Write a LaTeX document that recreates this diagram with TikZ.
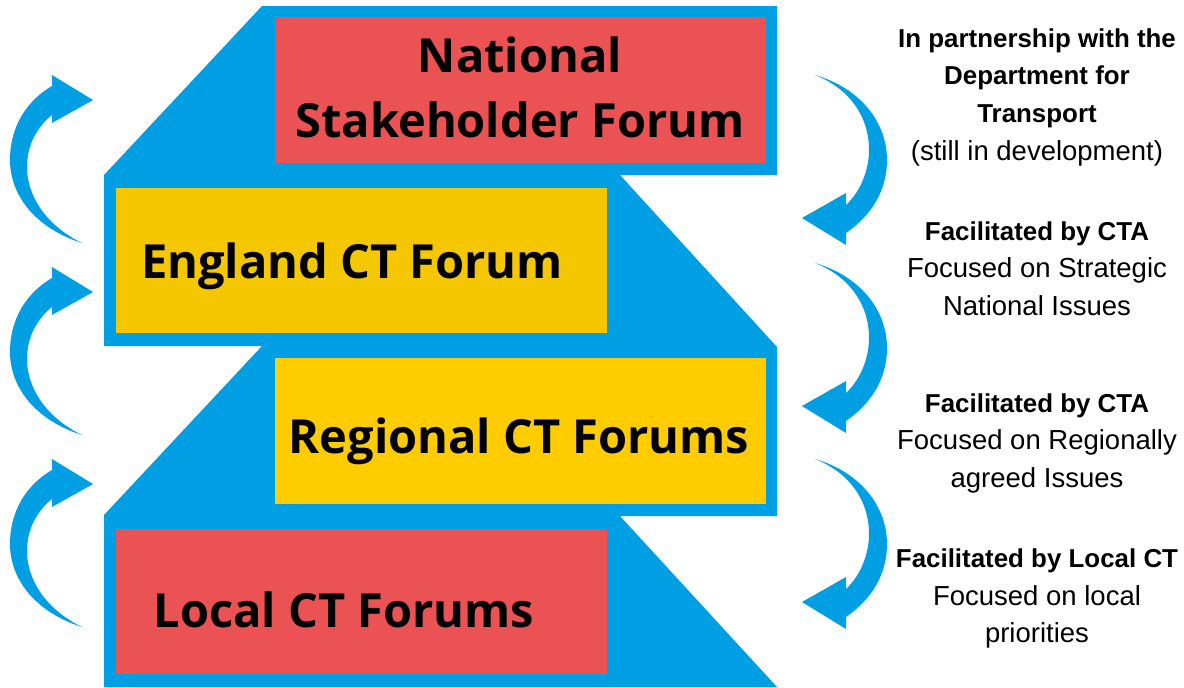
\documentclass[tikz,border=0pt]{standalone}
\usepackage{fontspec}
\newfontfamily\boxfont{Open Sans}
\newfontfamily\sidefont{Liberation Sans}
\definecolor{cblue}{HTML}{009FE3}
\definecolor{cred}{HTML}{EA5254}
\definecolor{cyelA}{HTML}{F4C700}
\definecolor{cyelB}{HTML}{FFCC00}
\tikzset{
  boxrect/.style={draw=none,inner sep=0pt,anchor=north west},
  boxtext/.style={font=\boxfont\bfseries\fontsize{47}{65}\selectfont,inner sep=0pt,anchor=base,align=center},
  sidebold/.style={font=\sidefont\bfseries\fontsize{25.9}{38}\selectfont,inner sep=0pt,anchor=base,align=center},
  sidereg/.style={font=\sidefont\fontsize{27.5}{38}\selectfont,inner sep=0pt,anchor=base,align=center},
  curvearrow/.style={fill=cblue,draw=none}
}
\begin{document}
\begin{tikzpicture}[x=1pt,y=-1pt]
\useasboundingbox (0,0) rectangle (1184,688);
% blue stepped shape
\fill[cblue] (262,6) -- (777,6) -- (777,175) -- (620,175) -- (777,347) -- (777,516) -- (620,516) -- (777,687) -- (104,687) -- (104,515) -- (262,346) -- (104,346) -- (104,175) -- cycle;
% boxes
\node[boxrect,fill=cred,minimum width=491pt,minimum height=146pt] (nat) at (275,17) {};
\node[boxrect,fill=cyelA,minimum width=491pt,minimum height=145pt] (eng) at (116,188) {};
\node[boxrect,fill=cyelB,minimum width=491pt,minimum height=146pt] (reg) at (275,358) {};
\node[boxrect,fill=cred,minimum width=491pt,minimum height=145pt] (loc) at (116,529) {};
% box texts
\node[boxtext] (natT1) at (520,72) {National};
\node[boxtext] (natT2) at (520,137) {Stakeholder Forum};
\node[boxtext] (engT) at (352,278) {England CT Forum};
\node[boxtext] (regT) at (519,453) {Regional CT Forums};
\node[boxtext] (locT) at (344,627) {Local CT Forums};
% left arrows (upward)
\foreach \s/\n in {0/la1,192/la2,384/la3}{
  \begin{scope}[yshift=-\s pt]
  \fill[curvearrow] (82,243) .. controls (35,228) and (10,195) .. (10,160)
    .. controls (10,125) and (28,100) .. (52,86) -- (52,75) -- (93,100) -- (52,123) -- (52,115)
    .. controls (37,127) and (27,145) .. (27,167)
    .. controls (27,195) and (45,225) .. (82,243) -- cycle;
  \end{scope}
}
% right arrows (downward)
\foreach \s/\n in {0/ra1,188/ra2,384/ra3}{
  \begin{scope}[yshift=-\s pt]
  \fill[curvearrow] (815,75) .. controls (860,88) and (887,122) .. (887,160)
    .. controls (887,190) and (872,215) .. (846,233) -- (846,245) -- (802,218) -- (846,193) -- (846,205)
    .. controls (862,190) and (869,168) .. (869,150)
    .. controls (869,115) and (848,88) .. (815,75) -- cycle;
  \end{scope}
}
% side texts
\node[sidebold] (s1a) at (1037,47) {In partnership with the};
\node[sidebold] (s1b) at (1037,84) {Department for};
\node[sidebold] (s1c) at (1037,122) {Transport};
\node[sidereg] (s1d) at (1037,160) {(still in development)};
\node[sidebold] (s2a) at (1037,240) {Facilitated by CTA};
\node[sidereg] (s2b) at (1037,277) {Focused on Strategic};
\node[sidereg] (s2c) at (1037,315) {National Issues};
\node[sidebold] (s3a) at (1037,412) {Facilitated by CTA};
\node[sidereg] (s3b) at (1037,449) {Focused on Regionally};
\node[sidereg] (s3c) at (1037,487) {agreed Issues};
\node[sidebold] (s4a) at (1037,567) {Facilitated by Local CT};
\node[sidereg] (s4b) at (1037,605) {Focused on local};
\node[sidereg] (s4c) at (1037,642) {priorities};
\end{tikzpicture}
\end{document}
